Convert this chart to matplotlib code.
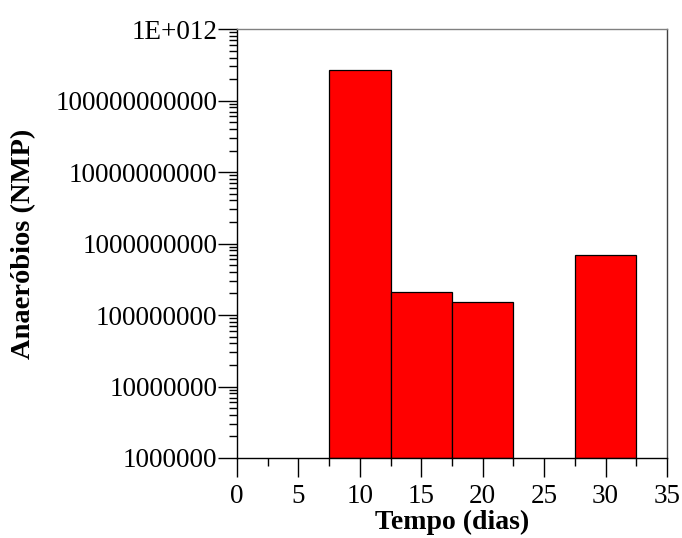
import matplotlib
matplotlib.use("Agg")
from matplotlib import pyplot as plt
from matplotlib import ticker

# Data
dias = [10, 15, 20, 30]
anaerobios = [2.7e11, 2.1e8, 1.5e8, 7.0e8]
largura = 5

y_ticks = [1e6, 1e7, 1e8, 1e9, 1e10, 1e11, 1e12]
y_labels = ["1000000", "10000000", "100000000", "1000000000",
            "10000000000", "100000000000", "1E+012"]
x_ticks = [0, 5, 10, 15, 20, 25, 30, 35]

plt.rcParams['font.family'] = ['Liberation Serif', 'DejaVu Serif']

fig = plt.figure(figsize=(6.82, 5.38), dpi=100)
ax = fig.add_axes([0.3475, 0.1487, 0.6305, 0.7973])

ax.bar(dias, anaerobios, width=largura, bottom=1e6, color='#ff0000',
       edgecolor='black', linewidth=0.9, zorder=2)

ax.set_yscale('log')
ax.set_ylim(1e6, 1e12)
ax.set_xlim(0, 35)

ax.set_yticks(y_ticks)
ax.set_yticklabels(y_labels)
ax.yaxis.set_minor_locator(ticker.LogLocator(base=10, subs=range(2, 10), numticks=20))
ax.yaxis.set_minor_formatter(ticker.NullFormatter())

ax.set_xticks(x_ticks)
ax.set_xticklabels([str(x) for x in x_ticks])
ax.xaxis.set_minor_locator(ticker.MultipleLocator(2.5))

ax.tick_params(axis='both', which='major', direction='out', length=14, width=1,
               labelsize=19.5, colors='black')
ax.tick_params(axis='both', which='minor', direction='out', length=6, width=1)
ax.tick_params(axis='x', which='major', pad=5)
ax.tick_params(axis='y', which='major', pad=0)

ax.spines['top'].set_color('#808080')
ax.spines['right'].set_color('#404040')
for s in ax.spines.values():
    s.set_linewidth(1)

ax.set_xlabel('Tempo (dias)', fontsize=20, fontweight='bold', labelpad=0)
ax.set_ylabel('Anaeróbios (NMP)', fontsize=20.5, fontweight='bold', labelpad=14)

fig.savefig('out.png', dpi=100)
